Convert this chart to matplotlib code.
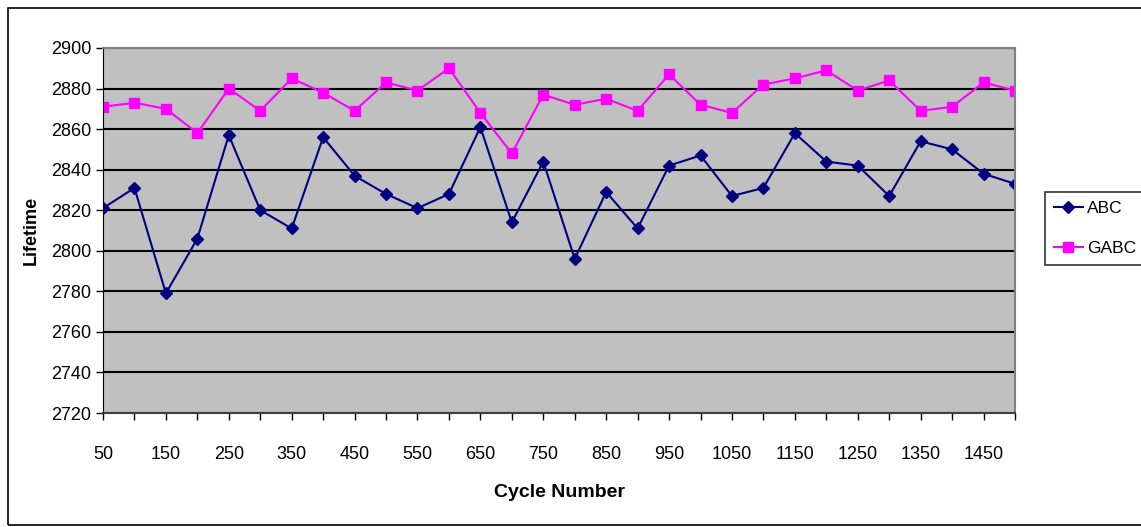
import numpy as np
import matplotlib
matplotlib.use("Agg")
import matplotlib.pyplot as plt
from matplotlib.patches import Rectangle

plt.rcParams['font.family'] = ['Liberation Sans', 'DejaVu Sans']

cycles = list(range(50, 1501, 50))
abc = [2821, 2831, 2779, 2806, 2857, 2820, 2811, 2856, 2837, 2828,
       2821, 2828, 2861, 2814, 2844, 2796, 2829, 2811, 2842, 2847,
       2827, 2831, 2858, 2844, 2842, 2827, 2854, 2850, 2838, 2833]
gabc = [2871, 2873, 2870, 2858, 2880, 2869, 2885, 2878, 2869, 2883,
        2879, 2890, 2868, 2848, 2877, 2872, 2875, 2869, 2887, 2872,
        2868, 2882, 2885, 2889, 2879, 2884, 2869, 2871, 2883, 2879]
yticks = list(range(2720, 2901, 20))

fig = plt.figure(figsize=(11.41, 5.27), dpi=100)
# outer chart border
fig.patches.append(Rectangle((8/1141, 2/527), 1.2, 517/527, transform=fig.transFigure,
                             fill=False, edgecolor='black', linewidth=1.2))

ax = fig.add_axes([103/1141, 114/527, 912/1141, 365/527])
ax.set_facecolor('#C0C0C0')

ax.plot(cycles, abc, color='#000080', marker='D', markersize=6.5, linewidth=1.5, label='ABC')
ax.plot(cycles, gabc, color='#FF00FF', marker='s', markersize=6.5, linewidth=1.5, label='GABC')

ax.set_xlim(50, 1500)
ax.set_ylim(2720, 2900)
ax.set_yticks(yticks)
ax.set_xticks(cycles)
ax.set_xticklabels([str(c) if i % 2 == 0 else '' for i, c in enumerate(cycles)])
ax.yaxis.grid(True, color='black', linewidth=1.5)
ax.set_axisbelow(True)

ax.tick_params(axis='both', labelsize=13, direction='out', length=5, width=1)
ax.tick_params(axis='x', pad=19)
for s in ['top', 'right']:
    ax.spines[s].set_color('#808080')
    ax.spines[s].set_linewidth(1.5)
ax.spines['left'].set_color('black')
ax.spines['bottom'].set_color('#404040')
ax.spines['bottom'].set_linewidth(1.5)

ax.set_xlabel('Cycle Number', fontsize=14, fontweight='bold', labelpad=15)
ax.set_ylabel('Lifetime', fontsize=13, fontweight='bold', labelpad=8)

leg = fig.legend(loc='upper left', bbox_to_anchor=(1045/1141, 1 - 192/527), fontsize=12.5,
                 frameon=True, fancybox=False, edgecolor='black', handlelength=1.7,
                 handletextpad=0.2, borderpad=0.5, labelspacing=1.45, borderaxespad=0)
leg.get_frame().set_linewidth(1.2)

fig.savefig('out.png', dpi=100)
